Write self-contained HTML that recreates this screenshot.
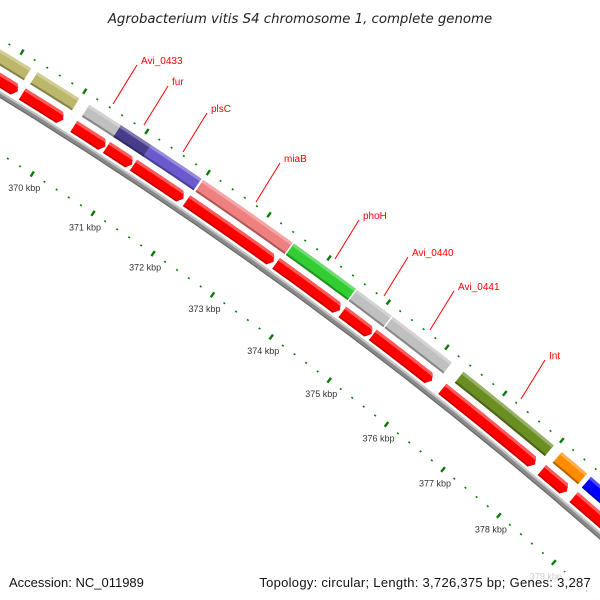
<!DOCTYPE html>
<html><head><meta charset="utf-8"><style>
html,body{margin:0;padding:0;background:#fff;}
svg{display:block;font-family:"Liberation Sans","DejaVu Sans",sans-serif;}
</style></head><body>
<svg id="map" width="600" height="600" viewBox="0 0 600 600" xmlns="http://www.w3.org/2000/svg">
<rect width="600" height="600" fill="#fff"/>
<g id="rulers"></g>
<g id="backbone"></g>
<g id="features"></g>
<g id="labels"></g>
<text x="300" y="23" text-anchor="middle" font-size="13.3" font-style="italic" fill="#222" style="font-family:'DejaVu Sans',sans-serif">Agrobacterium vitis S4 chromosome 1, complete genome</text>
<rect x="0" y="572" width="600" height="28" fill="#fff" opacity="0.75"/>
<text x="9" y="587" font-size="13" fill="#111">Accession: NC_011989</text>
<text x="591" y="587" text-anchor="end" font-size="13" letter-spacing="0.28" fill="#111">Topology: circular; Length: 3,726,375 bp; Genes: 3,287</text>
</svg>
<script>
// data (kbp)
const outerStart=[368.0,369.32,370.15,370.66,371.15,372.0,373.5,374.56,375.17,376.38,378.1,378.62];
const outerEnd=[369.22,369.99,370.68,371.15,371.97,373.48,374.54,375.15,376.18,377.96,378.55,380.5];
const outerColor=["#bdb76b","#bdb76b","#c0c0c0","#483d8b","#6a5acd","#f08080","#32cd32","#c0c0c0","#c0c0c0","#6b8e23","#ff8c00","#0000ff"];
const arrowStart=[368.0,369.3,370.13,370.66,371.1,371.97,373.46,374.58,375.1,376.3,378.05,378.62];
const arrowEnd=[369.23,369.96,370.64,371.08,371.92,373.42,374.54,375.08,376.12,377.93,378.5,380.5];
const tickLabels=[369,370,371,372,373,374,375,376,377,378,379,380];
const geneNames=["Avi_0433","fur","plsC","miaB","phoH","Avi_0440","Avi_0441","Int"];
const geneLabelX=[141,172,211,284,363,412,458,549];
const geneLabelY=[64,85,112,162,219,256,290,359];

const NS="http://www.w3.org/2000/svg";
const CX=-2305, CY=3857, DEG=Math.PI/180;
function ang(k){return (-57.6+0.95*(k-370))*DEG;}
function P(k,r){const a=ang(k);return [CX+r*Math.cos(a),CY+r*Math.sin(a)];}
function mk(tag,attrs,parent){const e=document.createElementNS(NS,tag);for(const k in attrs)e.setAttribute(k,attrs[k]);parent.appendChild(e);return e;}
function arcPts(k1,k2,r){const pts=[];const n=16;for(let i=0;i<=n;i++){pts.push(P(k1+(k2-k1)*i/n,r));}return pts;}
function poly(pts){return pts.map(p=>p[0].toFixed(2)+","+p[1].toFixed(2)).join(" ");}

const rul=document.getElementById('rulers');
for(let k=368;k<=380.001;k+=0.2){
  const major=Math.abs(k-Math.round(k))<0.01;
  [4362,4460].forEach(r=>{
    const a=P(k,major?r-3:r-0.8), b=P(k,major?r+3:r+0.8);
    const l=mk('line',{x1:a[0],y1:a[1],x2:b[0],y2:b[1],stroke:'#0a7a0a','stroke-width':major?2.4:2},rul);
    
    
  });
}
tickLabels.forEach(k=>{
  const p=P(k,4362);
  const t=mk('text',{x:p[0]-8,y:p[1]+17,'text-anchor':'middle','font-size':9,fill:'#333'},rul);
  t.textContent=k+" kbp";
  
  
});

const bb=document.getElementById('backbone');
[[4412.5,6,'#8a8a8a'],[4414.5,2,'#c4c4c4'],[4410,1.2,'#6a6a6a']].forEach(s=>{
  const pl=mk('polyline',{points:poly(arcPts(367,381,s[0])),fill:'none',stroke:s[2],'stroke-width':s[1]},bb);
  
  
});

const fg=document.getElementById('features');
function shade(c,f){const n=parseInt(c.slice(1),16);let r=n>>16,g=(n>>8)&255,b=n&255;
  const m=x=>Math.max(0,Math.min(255,Math.round(f>0?x+(255-x)*f:x*(1+f))));return "rgb("+m(r)+","+m(g)+","+m(b)+")";}
outerStart.forEach((s,i)=>{
  const e=outerEnd[i], r1=4437, r2=4451;
  const g=mk('g',{},fg);
  
  
  mk('polygon',{points:poly(arcPts(s,e,r1).concat(arcPts(s,e,r2).reverse())),fill:outerColor[i]},g);
  mk('polygon',{points:poly(arcPts(s,e,r2-3).concat(arcPts(s,e,r2).reverse())),fill:shade(outerColor[i],0.3)},g);
  mk('polygon',{points:poly(arcPts(s,e,r1).concat(arcPts(s,e,r1+2).reverse())),fill:shade(outerColor[i],-0.3)},g);
});
arrowStart.forEach((s,i)=>{
  const e=arrowEnd[i], r1=4418, r2=4431, h=0.06, m=(r1+r2)/2;
  const be=Math.max(s,e-h);
  const g=mk('g',{},fg);
  
  
  const pts=arcPts(s,be,r1).concat([P(e,m)]).concat(arcPts(s,be,r2).reverse());
  mk('polygon',{points:poly(pts),fill:'#ff0000'},g);
  const hp=arcPts(s,be,r2-3).concat([P(e-h*0.25,r2-3.5)]).concat([P(be,r2)]).concat(arcPts(s,be,r2).reverse());
  mk('polygon',{points:poly(hp),fill:'#ff5a5a'},g);
  mk('polygon',{points:poly(arcPts(s,be,r1).concat([P(e,m)]).concat([P(be,r1+1.5)]).concat(arcPts(s,be,r1+1.5).reverse())),fill:'#c00000'},g);
});

const lg=document.getElementById('labels');
geneNames.forEach((n,i)=>{
  const x=geneLabelX[i], y=geneLabelY[i];
  const l=mk('line',{x1:x-4,y1:y+1,x2:x-28,y2:y+40,stroke:'#ff0000','stroke-width':1},lg);
  
  
  const t=mk('text',{x:x,y:y,'font-size':10,fill:'#ff0000'},lg);
  t.textContent=n;
  
  
});
</script>
</body></html>
